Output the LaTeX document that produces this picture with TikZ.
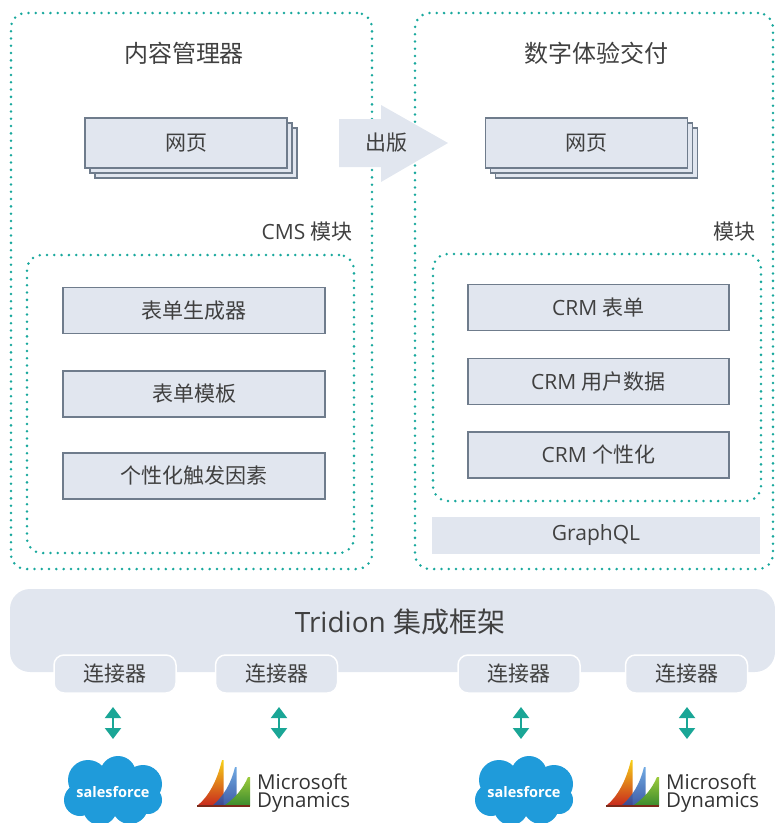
\documentclass[tikz,border=0pt]{standalone}
\usepackage{fontspec}
\setmainfont{Open Sans}
\newfontfamily\cjk{Noto Sans CJK SC}
\usetikzlibrary{arrows.meta}
\definecolor{txt}{HTML}{404040}
\definecolor{boxfill}{HTML}{E1E6EF}
\definecolor{boxline}{HTML}{6F7C8C}
\definecolor{dotteal}{HTML}{19A89D}
\definecolor{arrteal}{HTML}{1AA696}
\definecolor{sfblue}{HTML}{1F9BDA}
\definecolor{msyellow}{HTML}{F7D117}
\definecolor{msorange}{HTML}{F08A1C}
\definecolor{msred}{HTML}{C8281E}
\definecolor{mslblue}{HTML}{5FA0E0}
\definecolor{msdblue}{HTML}{2B4A9C}
\definecolor{mslgreen}{HTML}{9CCB3B}
\definecolor{msdgreen}{HTML}{3A8A2E}
\definecolor{msbase}{HTML}{7A2A1A}
\definecolor{mstxt}{HTML}{333333}
\tikzset{
  dotbox/.style={draw=dotteal, line width=2.8pt, line cap=round, dash pattern=on 0pt off 7.3pt, rounded corners=15pt, inner sep=0pt},
  lbl/.style={text=txt, font=\fontsize{21pt}{25pt}\selectfont, inner sep=0pt},
  titlelbl/.style={text=txt, font=\fontsize{24pt}{28pt}\selectfont, inner sep=0pt},
  modbox/.style={draw=boxline, fill=boxfill, line width=1.5pt, lbl},
  pagebox/.style={draw=boxline, fill=boxfill, line width=1.5pt, lbl, minimum width=202pt, minimum height=50pt},
  conbox/.style={draw=white, fill=boxfill, line width=1.5pt, rounded corners=10pt, lbl, minimum width=122pt, minimum height=38pt},
  dblarrow/.style={draw=arrteal, line width=2pt, {Triangle[width=16pt,length=11pt]}-{Triangle[width=16pt,length=11pt]}},
  sflbl/.style={text=white, font=\fontsize{14.5pt}{18pt}\selectfont\bfseries, inner sep=0pt},
  mslbl/.style={text=mstxt, font=\fontsize{20.5pt}{18pt}\selectfont, inner sep=0pt, anchor=north west, align=left},
}
\newcommand\sfcloud[2]{%
  \begin{scope}[shift={(#1,792)}]
    \fill[sfblue] (-25,-12) circle[radius=20pt];
    \fill[sfblue] (5,-18) circle[radius=18pt];
    \fill[sfblue] (30,-8) circle[radius=19pt];
    \fill[sfblue] (-33,8) circle[radius=16pt];
    \fill[sfblue] (-13,16) circle[radius=17pt];
    \fill[sfblue] (17,14) circle[radius=18pt];
    \fill[sfblue] (35,8) circle[radius=14pt];
    \fill[sfblue] (0,0) ellipse[x radius=32pt, y radius=16pt];
  \end{scope}
  \node[sflbl] (#2) at (#1,792) {salesforce};
}
\newcommand\mslogo[2]{%
  \begin{scope}[shift={(#1,806)}]
    \shade[top color=msyellow, middle color=msorange, bottom color=msred]
      (0,0) .. controls (12,-10) and (20,-25) .. (25,-46) -- (26.5,-46) -- (26.5,0) -- cycle;
    \shade[top color=mslblue, bottom color=msdblue, opacity=0.9]
      (15,0) .. controls (26,-9) and (34,-22) .. (38,-39) -- (39.5,-39) -- (39.5,0) -- cycle;
    \shade[top color=mslgreen, bottom color=msdgreen]
      (28,-1) .. controls (38,-8) and (46,-17) .. (51,-29) -- (53,-29) -- (53,0) -- cycle;
    \fill[msbase] (0,-0.6) rectangle (53,0.9);
  \end{scope}
  \node[mslbl, xshift=60pt] (ms#2) at (#1,773.4) {Microsoft\\Dynamics};
}
\begin{document}
\begin{tikzpicture}[x=1pt,y=-1pt]
\useasboundingbox (0,0) rectangle (775,823);
% outer containers
\node[dotbox, minimum width=361pt, minimum height=556pt] (lout) at (191.5,291) {};
\node[dotbox, minimum width=358pt, minimum height=556pt] (rout) at (594,291) {};
% titles
\node[titlelbl] (ltitle) at (184,53) {\cjk 内容管理器};
\node[titlelbl] (rtitle) at (596,53) {\cjk 数字体验交付};
% stacked pages
\node[pagebox] (lpc) at (196,153) {};
\node[pagebox] (lpb) at (191,148) {};
\node[pagebox] (lpage) at (186,143) {\cjk 网页};
\node[pagebox] (rpc) at (596.5,153) {};
\node[pagebox] (rpb) at (591.5,148) {};
\node[pagebox] (rpage) at (586.5,143) {\cjk 网页};
% module labels
\node[lbl, anchor=east] (cmslbl) at (353,232) {CMS {\cjk 模块}};
\node[lbl, anchor=east] (rmodlbl) at (756,232) {\cjk 模块};
% inner containers
\node[dotbox, minimum width=327pt, minimum height=298pt] (lin) at (190.5,404) {};
\node[dotbox, minimum width=328pt, minimum height=247pt] (rin) at (597,377.5) {};
% left modules
\node[modbox, minimum width=262pt, minimum height=46pt] (m1) at (194,310.5) {\cjk 表单生成器};
\node[modbox, minimum width=262pt, minimum height=46pt] (m2) at (194,394) {\cjk 表单模板};
\node[modbox, minimum width=262pt, minimum height=46pt] (m3) at (194,476) {\cjk 个性化触发因素};
% right modules
\node[modbox, minimum width=261pt, minimum height=46pt] (c1m) at (598.5,307.5) {CRM {\cjk 表单}};
\node[modbox, minimum width=261pt, minimum height=46pt] (c2m) at (598.5,381.5) {CRM {\cjk 用户数据}};
\node[modbox, minimum width=261pt, minimum height=46pt] (c3m) at (598.5,455) {CRM {\cjk 个性化}};
% GraphQL
\node[fill=boxfill, lbl, minimum width=328pt, minimum height=37pt] (gql) at (596,535.5) {GraphQL};
% publish arrow
\fill[boxfill] (339,119) -- (381,119) -- (381,105) -- (448,143) -- (381,182) -- (381,167) -- (339,167) -- cycle;
\node[lbl] (pub) at (386.5,143) {\cjk 出版};
% Tridion band
\node[fill=boxfill, rounded corners=20pt, minimum width=765pt, minimum height=83pt, inner sep=0pt] (band) at (392.5,630.5) {};
\node[text=txt, font=\fontsize{28pt}{32pt}\selectfont, inner sep=0pt] (bandlbl) at (400,622) {Tridion {\cjk 集成框架}};
% connectors
\node[conbox] (k1) at (115,674) {\cjk 连接器};
\node[conbox] (k2) at (276.5,674) {\cjk 连接器};
\node[conbox] (k3) at (519,674) {\cjk 连接器};
\node[conbox] (k4) at (686.5,674) {\cjk 连接器};
% logos
\sfcloud{113}{sf1}
\mslogo{197}{1}
\sfcloud{524}{sf2}
\mslogo{606}{2}
% double arrows
\coordinate (a1t) at (113,707); \coordinate (a1b) at (113,739);
\coordinate (a2t) at (279,707); \coordinate (a2b) at (279,739);
\coordinate (a3t) at (521,707); \coordinate (a3b) at (521,739);
\coordinate (a4t) at (687,707); \coordinate (a4b) at (687,739);
\draw[dblarrow] (a1t) -- (a1b);
\draw[dblarrow] (a2t) -- (a2b);
\draw[dblarrow] (a3t) -- (a3b);
\draw[dblarrow] (a4t) -- (a4b);
\end{tikzpicture}
\end{document}
